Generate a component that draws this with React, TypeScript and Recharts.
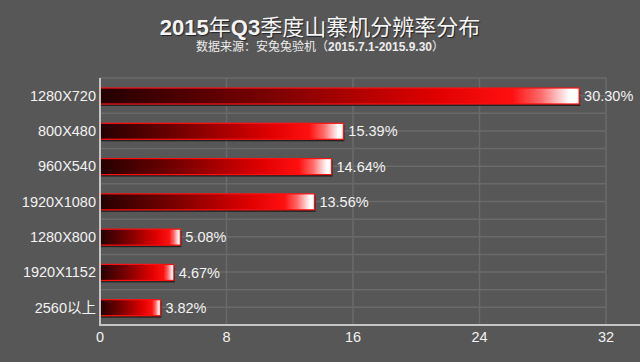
import { BarChart, Bar, XAxis, YAxis, CartesianGrid, LabelList } from "recharts";

const resolutions = [
  "1280X720",
  "800X480",
  "960X540",
  "1920X1080",
  "1280X800",
  "1920X1152",
  "2560以上",
];
const shares = [30.3, 15.39, 14.64, 13.56, 5.08, 4.67, 3.82];
const xTicks = [0, 8, 16, 24, 32];

const data = resolutions.map((name, i) => ({ name, share: shares[i] }));

const FONT = "'Liberation Sans', Arial, 'Noto Sans CJK SC', sans-serif";
const BG = "#575757";

// glossy red bar with a dark drop shadow underneath
function GlossyBar(props: any) {
  const { x, y, width, height } = props;
  if (!width || width <= 0) return null;
  return (
    <g>
      <rect x={x + 1} y={y + 2} width={width} height={height} fill="#111" opacity={0.75} />
      <rect
        x={x}
        y={y}
        width={width}
        height={height}
        fill="url(#barGrad)"
        stroke="#ff1010"
        strokeWidth={1.2}
      />
    </g>
  );
}

function halfBandLines({ offset }: any) {
  const n = resolutions.length * 2;
  return Array.from({ length: n + 1 }, (_, i) => offset.top + (i * offset.height) / n);
}

export default function App() {
  return (
    <div
      style={{
        position: "fixed",
        left: 0,
        top: 0,
        width: 640,
        height: 362,
        background: BG,
        fontFamily: FONT,
        overflow: "hidden",
      }}
    >
      <div
        style={{
          position: "absolute",
          top: 17,
          left: 0,
          width: 640,
          textAlign: "center",
          fontSize: 22,
          lineHeight: "22px",
          color: "#f4f4f4",
          textShadow: "1px 1px 1px #222",
        }}
      >
        <b>2015</b>年<b>Q3</b>季度山寨机分辨率分布
      </div>
      <div
        style={{
          position: "absolute",
          top: 41,
          left: 0,
          width: 640,
          textAlign: "center",
          fontSize: 12,
          lineHeight: "12px",
          color: "#ececec",
        }}
      >
        数据来源：安兔兔验机（<b>2015.7.1-2015.9.30</b>）
      </div>

      <BarChart
        width={640}
        height={362}
        data={data}
        layout="vertical"
        margin={{ top: 78, right: 34, bottom: 6, left: 0 }}
        barSize={16}
      >
        <defs>
          <linearGradient id="barGrad" x1="0" y1="0" x2="1" y2="0">
            <stop offset="0%" stopColor="#240000" />
            <stop offset="35%" stopColor="#7a0000" />
            <stop offset="70%" stopColor="#e00000" />
            <stop offset="86%" stopColor="#ff1010" />
            <stop offset="92%" stopColor="#ff6a6a" />
            <stop offset="98%" stopColor="#ffffff" />
            <stop offset="100%" stopColor="#ffffff" />
          </linearGradient>
        </defs>
        <CartesianGrid
          stroke="#6a6a6a"
          strokeWidth={1.5}
          horizontalCoordinatesGenerator={halfBandLines}
        />
        <XAxis
          type="number"
          domain={[0, 32]}
          ticks={xTicks}
          height={31}
          axisLine={false}
          tickLine={false}
          tickSize={0}
          tickMargin={7}
          tick={{ fill: "#f2f2f2", fontSize: 14.5, fontFamily: FONT }}
        />
        <YAxis
          type="category"
          dataKey="name"
          width={100}
          axisLine={{ stroke: "#c4c4c4", strokeWidth: 2 }}
          tickLine={false}
          tickSize={0}
          tickMargin={4}
          tick={{ fill: "#f2f2f2", fontSize: 14.5, fontFamily: FONT }}
        />
        <Bar dataKey="share" shape={<GlossyBar />} isAnimationActive={false}>
          <LabelList
            dataKey="share"
            position="right"
            offset={5}
            formatter={(v: any) => `${Number(v).toFixed(2)}%`}
            style={{ fill: "#f2f2f2", fontSize: 14.5, fontFamily: FONT }}
          />
        </Bar>
      </BarChart>

      {/* bottom axis line runs on to the right edge */}
      <div
        style={{
          position: "absolute",
          left: 99,
          top: 324,
          width: 541,
          height: 2,
          background: "#c4c4c4",
        }}
      />
    </div>
  );
}
